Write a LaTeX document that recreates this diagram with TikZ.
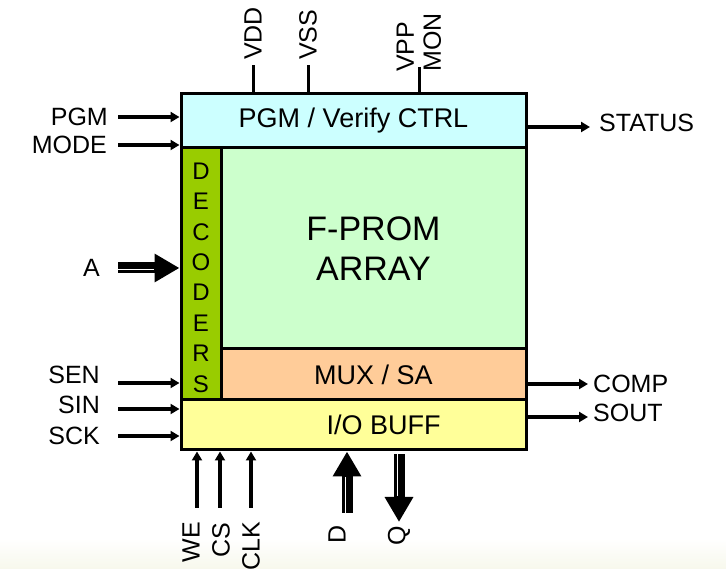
\documentclass[tikz,border=0pt]{standalone}
\usepackage{fontspec}
\setmainfont{Liberation Sans}
\usetikzlibrary{arrows.meta,positioning}
\definecolor{ctrlcol}{HTML}{CCFFFF}
\definecolor{deccol}{HTML}{99CC00}
\definecolor{arrcol}{HTML}{CCFFCC}
\definecolor{muxcol}{HTML}{FFCC99}
\definecolor{iocol}{HTML}{FFFF99}
\definecolor{floorcol}{RGB}{247,248,236}
\tikzset{
  blk/.style={draw,line width=3pt,inner sep=0pt,font=\fontsize{27}{32}\selectfont},
  pinlbl/.style={inner sep=0pt,font=\fontsize{25}{27}\selectfont},
  sig/.style={line width=3.2pt,-{Triangle[length=9pt,width=10pt]}},
  pwr/.style={line width=3pt},
  bus/.style={line width=11pt,-{Triangle[length=25pt,width=27pt]}},
  stripes/.style={draw=white,line width=.9pt,double=black,double distance=3pt,shorten >=26pt},
}
\begin{document}
\begin{tikzpicture}[x=1pt,y=1pt]
        \useasboundingbox (0,0) rectangle (726,569);
        \shade[top color=white,bottom color=floorcol] (0,0) rectangle (726,30);
        % blocks
        \node[blk,fill=deccol,minimum width=40pt,minimum height=252pt] (dec) at (201,295) {};
        \node[blk,fill=arrcol,minimum width=305pt,minimum height=201pt,align=center,font=\fontsize{34}{40}\selectfont] (arr) at (373.5,320.5) {F-PROM\\ARRAY};
        \node[blk,fill=muxcol,minimum width=305pt,minimum height=51pt] (mux) at (373.5,194.5) {MUX / SA};
        \node[blk,fill=ctrlcol,minimum width=345pt,minimum height=54pt] (ctrl) at (353.5,448) {PGM / Verify CTRL};
        \node[blk,fill=iocol,minimum width=345pt,minimum height=50pt] (io) at (353.5,144) {};
        \node[font=\fontsize{27}{32}\selectfont,inner sep=0pt] (iotxt) at ([xshift=30pt]io.center) {I/O BUFF};
        \node[align=center,inner sep=0pt,font=\fontsize{24}{30.4}\selectfont] (dectxt) at (201,291.5) {D\\E\\C\\O\\D\\E\\R\\S};
        % left side
        \coordinate (pgm in) at (118,452);
        \coordinate (mode in) at (118,424);
        \coordinate (a in) at (118,301);
        \coordinate (sen in) at (118,186);
        \coordinate (sin in) at (118,160);
        \coordinate (sck in) at (118,133);
        \node[pinlbl,left=10pt of pgm in] (pgm) {PGM};
        \node[pinlbl,left=11pt of mode in] (mode) {MODE};
        \node[pinlbl,left=18pt of a in] (a) {A};
        \node[pinlbl,left=18pt of sen in,yshift=8pt] (sen) {SEN};
        \node[pinlbl,left=18pt of sin in,yshift=4pt] (sin) {SIN};
        \node[pinlbl,left=18pt of sck in] (sck) {SCK};
        \draw[sig] (pgm in) -- (pgm in -| ctrl.west);
        \draw[sig] (mode in) -- (mode in -| ctrl.west);
        \draw[bus] (a in) -- (a in -| dec.west);
        \draw[stripes] (a in) -- (a in -| dec.west);
        \draw[sig] (sen in) -- (sen in -| dec.west);
        \draw[sig] (sin in) -- (sin in -| io.west);
        \draw[sig] (sck in) -- (sck in -| io.west);
        % right side
        \coordinate (status out) at (590,442);
        \coordinate (comp out) at (588,185);
        \coordinate (sout out) at (588,152);
        \draw[sig] (status out -| ctrl.east) -- (status out);
        \draw[sig] (comp out -| mux.east) -- (comp out);
        \draw[sig] (sout out -| io.east) -- (sout out);
        \node[pinlbl,right=9pt of status out,yshift=4pt] (status) {STATUS};
        \node[pinlbl,right=5pt of comp out] (comp) {COMP};
        \node[pinlbl,right=5pt of sout out,yshift=4pt] (sout) {SOUT};
        % supplies on top
        \coordinate (vdd top) at (253,504);
        \coordinate (vss top) at (308,504);
        \coordinate (vpp top) at (419,502);
        \draw[pwr] (vdd top |- ctrl.north) -- (vdd top);
        \draw[pwr] (vss top |- ctrl.north) -- (vss top);
        \draw[pwr] (vpp top |- ctrl.north) -- (vpp top);
        \node[pinlbl,rotate=90,anchor=west] (vdd) at ([yshift=5pt]vdd top) {VDD};
        \node[pinlbl,rotate=90,anchor=west] (vss) at ([yshift=5pt]vss top) {VSS};
        \node[pinlbl,rotate=90,anchor=west,align=left] (vpp) at ([yshift=-5pt]vpp top) {VPP\\MON};
        % bottom
        \coordinate (we bot) at (197,61);
        \coordinate (cs bot) at (220,61);
        \coordinate (clk bot) at (251,61);
        \coordinate (d bot) at (347,56);
        \coordinate (q bot) at (399,47);
        \draw[sig] (we bot) -- (we bot |- io.south);
        \draw[sig] (cs bot) -- (cs bot |- io.south);
        \draw[sig] (clk bot) -- (clk bot |- io.south);
        \draw[bus] (d bot) -- (d bot |- io.south);
        \draw[stripes] (d bot) -- (d bot |- io.south);
        \draw[bus] ([yshift=-3pt]q bot |- io.south) -- (q bot);
        \draw[stripes] ([yshift=-3pt]q bot |- io.south) -- (q bot);
        \node[pinlbl,rotate=90,anchor=east] (we) at (191,47) {WE};
        \node[pinlbl,rotate=90,anchor=east] (cs) at (221,46) {CS};
        \node[pinlbl,rotate=90,anchor=east] (clk) at (251,47) {CLK};
        \node[pinlbl,rotate=90,anchor=east] (d) at (337,44) {D};
        \node[pinlbl,rotate=90,anchor=east] (q) at (399,43) {Q};
      \end{tikzpicture}
\end{document}
